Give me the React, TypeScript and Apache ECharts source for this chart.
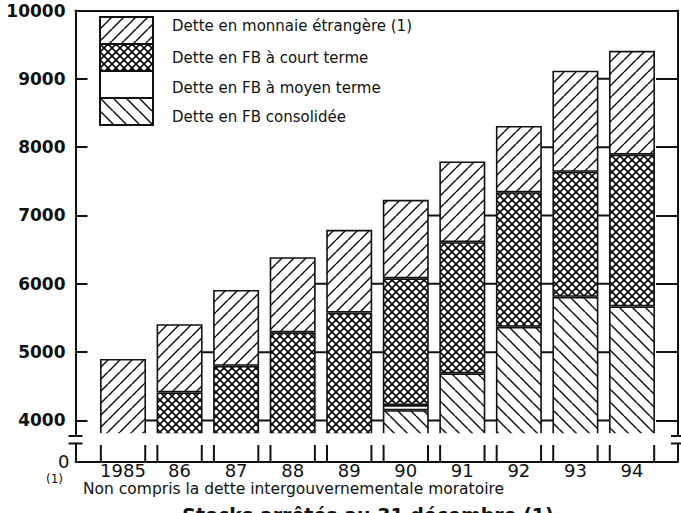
import React, { useEffect, useRef } from 'react';
import * as echarts from 'echarts';

// ---- data ----
const YEARS = ['1985', '86', '87', '88', '89', '90', '91', '92', '93', '94'];
const NAME_FOREIGN = 'Dette en monnaie étrangère (1)';
const NAME_SHORT = 'Dette en FB à court terme';
const NAME_MEDIUM = 'Dette en FB à moyen terme';
const NAME_CONSOL = 'Dette en FB consolidée';
const consolidee = [null, null, null, null, null, 4150, 4690, 5370, 5810, 5670];
const moyenTerme = [null, null, null, null, null, 75, null, null, null, null];
const courtTerme = [null, 4410, 4800, 5290, 5580, 1855, 1920, 1970, 1830, 2220];
const monnaieEtrangere = [4900, 1000, 1110, 1100, 1210, 1150, 1180, 970, 1480, 1520];
const Y_LABELS = [4000, 5000, 6000, 7000, 8000, 9000, 10000];
const GRID_LEVELS = [4000, 5000, 6000, 7000, 8000, 9000];
const Y_MIN = 3773;
const Y_MAX = 10000;
const FOOTNOTE = 'Non compris la dette intergouvernementale moratoire';
const BOTTOM_TITLE = 'Stocks arrêtés au 31 décembre (1)';

const FONT = 'DejaVu Sans';
const INK = '#111';
const BAR_W = 46;
const BAR_BORDER = 1.6;

function makePattern(size: number, lw: number, dirs: string[]) {
  const c = document.createElement('canvas');
  c.width = size;
  c.height = size;
  const ctx = c.getContext('2d') as CanvasRenderingContext2D;
  ctx.fillStyle = '#fff';
  ctx.fillRect(0, 0, size, size);
  ctx.strokeStyle = INK;
  ctx.lineWidth = lw;
  for (const d of dirs) {
    for (let k = -1; k <= 1; k++) {
      ctx.beginPath();
      if (d === '/') {
        ctx.moveTo(k * size, size);
        ctx.lineTo(k * size + size, 0);
      } else {
        ctx.moveTo(k * size, 0);
        ctx.lineTo(k * size + size, size);
      }
      ctx.stroke();
    }
  }
  return { image: c.toDataURL(), imageWidth: size, imageHeight: size, repeat: 'repeat' };
}

export default function App() {
  const ref = useRef<HTMLDivElement>(null);
  useEffect(() => {
    const chart = echarts.init(ref.current as HTMLDivElement, null, { renderer: 'svg' });

    const pForeign = makePattern(12, 1.5, ['/']);
    const pCross = makePattern(8, 1.8, ['/', '\\']);
    const pConsol = makePattern(13, 1.5, ['\\']);

    const tops = YEARS.map((_, i) =>
      [consolidee, moyenTerme, courtTerme, monnaieEtrangere].reduce((s, a) => s + (a[i] || 0), 0)
    );
    const segs: number[][] = [];
    for (let i = 0; i < YEARS.length - 1; i++) {
      for (const L of GRID_LEVELS) {
        if (L < Math.min(tops[i], tops[i + 1])) segs.push([i, L]);
      }
    }

    const barCommon = {
      type: 'bar',
      stack: 'total',
      xAxisIndex: 1,
      yAxisIndex: 2,
      barWidth: BAR_W,
      clip: true,
      silent: true,
      emphasis: { disabled: true },
    };
    const line = { color: INK, width: 2 };
    const legendNames = [NAME_FOREIGN, NAME_SHORT, NAME_MEDIUM, NAME_CONSOL];
    const richBase = { fontFamily: FONT, fontSize: 15, color: INK };

    const option: any = {
      animation: false,
      backgroundColor: '#fff',
      textStyle: { fontFamily: FONT, color: INK },
      grid: [
        { left: 75.5, right: 3, top: 10.5, bottom: 77 },
        { left: 94.75, right: 20.75, top: 10.5, bottom: 77 },
        { left: 75.5, right: 3, top: 443.5, bottom: 51.5 },
        { left: 94.75, right: 20.75, top: 443.5, bottom: 51.5 },
      ],
      legend: {
        orient: 'vertical',
        left: 99,
        top: 16,
        padding: 0,
        itemWidth: 53,
        itemHeight: 27,
        itemGap: -2,
        icon: 'rect',
        selectedMode: false,
        data: legendNames,
        formatter: (name: string) => `{r${legendNames.indexOf(name)}|${name}}`,
        textStyle: {
          fontFamily: FONT, fontSize: 15, color: INK, padding: [0, 0, 0, 14],
          rich: {
            r0: { ...richBase, padding: [0, 0, 9, 0] },
            r1: { ...richBase },
            r2: { ...richBase, padding: [7, 0, 0, 0] },
            r3: { ...richBase, padding: [11, 0, 0, 0] },
          },
        },
      },
      xAxis: [
        {
          gridIndex: 0, type: 'value', position: 'top', min: 0, max: 1,
          axisLine: { show: true, onZero: false, lineStyle: line },
          axisTick: { show: false }, axisLabel: { show: false }, splitLine: { show: false },
        },
        { gridIndex: 1, type: 'category', data: YEARS, show: false },
        {
          gridIndex: 2, type: 'value', position: 'bottom', min: 0, max: 1,
          axisLine: { show: true, onZero: false, lineStyle: line },
          axisTick: { show: false }, axisLabel: { show: false }, splitLine: { show: false },
        },
        {
          gridIndex: 3, type: 'category', data: YEARS, position: 'bottom',
          axisLine: { show: false, onZero: false }, axisTick: { show: false },
          axisLabel: { interval: 0, fontFamily: FONT, fontSize: 18, color: INK, margin: 0 },
        },
      ],
      yAxis: [
        {
          gridIndex: 0, type: 'value', position: 'left', min: Y_MIN, max: Y_MAX,
          axisLine: { show: true, onZero: false, lineStyle: line },
          axisTick: { show: true, inside: true, length: 12, customValues: GRID_LEVELS, lineStyle: line },
          axisLabel: {
            customValues: Y_LABELS, formatter: (v: number) => String(v),
            fontFamily: FONT, fontWeight: 'bold', fontSize: 17, color: INK, margin: 10,
            padding: [6, 0, 0, 0],
          },
          splitLine: { show: false },
        },
        {
          gridIndex: 0, type: 'value', position: 'right', min: Y_MIN, max: Y_MAX,
          axisLine: { show: true, onZero: false, lineStyle: line },
          axisTick: { show: true, inside: true, length: 22, customValues: GRID_LEVELS, lineStyle: line },
          axisLabel: { show: false }, splitLine: { show: false },
        },
        { gridIndex: 1, type: 'value', min: Y_MIN, max: Y_MAX, show: false, splitLine: { show: false } },
        {
          gridIndex: 2, type: 'value', position: 'left', min: 0, max: 1,
          axisLine: { show: true, onZero: false, lineStyle: line },
          axisTick: { show: false },
          axisLabel: { customValues: [0], formatter: (v: number) => String(v), fontFamily: FONT, fontSize: 18, color: INK, margin: 6 },
          splitLine: { show: false },
        },
        {
          gridIndex: 2, type: 'value', position: 'right', min: 0, max: 1,
          axisLine: { show: true, onZero: false, lineStyle: line },
          axisTick: { show: false }, axisLabel: { show: false }, splitLine: { show: false },
        },
        { gridIndex: 3, type: 'value', min: 0, max: 1, show: false, splitLine: { show: false } },
      ],
      series: [
        { ...barCommon, name: NAME_CONSOL, data: consolidee, itemStyle: { color: pConsol, borderColor: INK, borderWidth: BAR_BORDER } },
        { ...barCommon, name: NAME_MEDIUM, data: moyenTerme, itemStyle: { color: '#fff', borderColor: INK, borderWidth: BAR_BORDER } },
        { ...barCommon, name: NAME_SHORT, data: courtTerme, itemStyle: { color: pCross, borderColor: INK, borderWidth: BAR_BORDER } },
        { ...barCommon, name: NAME_FOREIGN, data: monnaieEtrangere, itemStyle: { color: pForeign, borderColor: INK, borderWidth: BAR_BORDER } },
        {
          type: 'custom',
          xAxisIndex: 1,
          yAxisIndex: 2,
          z: 1,
          silent: true,
          data: segs,
          encode: { x: 0, y: 1 },
          renderItem: (params: any, api: any) => {
            const i = api.value(0);
            const L = api.value(1);
            const p0 = api.coord([i, L]);
            const p1 = api.coord([i + 1, L]);
            return {
              type: 'line',
              shape: { x1: p0[0], y1: p0[1], x2: p1[0], y2: p1[1] },
              style: { stroke: INK, lineWidth: 2 },
            };
          },
        },
        {
          type: 'custom',
          xAxisIndex: 3,
          yAxisIndex: 5,
          silent: true,
          data: YEARS.map((_, i) => [i, 0]),
          encode: { x: 0, y: 1 },
          renderItem: (params: any, api: any) => {
            const i = api.value(0);
            const b = api.coord([i, 0]);
            const t = api.coord([i, 1]);
            const h = BAR_W / 2 - BAR_BORDER / 2;
            return {
              type: 'group',
              children: [
                { type: 'line', shape: { x1: b[0] - h, y1: t[1] + 1.5, x2: b[0] - h, y2: b[1] }, style: { stroke: INK, lineWidth: 2 } },
                { type: 'line', shape: { x1: b[0] + h, y1: t[1] + 1.5, x2: b[0] + h, y2: b[1] }, style: { stroke: INK, lineWidth: 2 } },
              ],
            };
          },
        },
      ],
      graphic: [
        { type: 'rect', z: 100, shape: { x: 90, y: 433.3, width: 575, height: 8 }, style: { fill: '#fff' } },
        { type: 'line', z: 100, shape: { x1: 68.5, y1: 436, x2: 82.5, y2: 436 }, style: { stroke: INK, lineWidth: 2 } },
        { type: 'line', z: 100, shape: { x1: 68.5, y1: 443.5, x2: 82.5, y2: 443.5 }, style: { stroke: INK, lineWidth: 2 } },
        { type: 'line', z: 100, shape: { x1: 671, y1: 436, x2: 685, y2: 436 }, style: { stroke: INK, lineWidth: 2 } },
        { type: 'line', z: 100, shape: { x1: 671, y1: 443.5, x2: 685, y2: 443.5 }, style: { stroke: INK, lineWidth: 2 } },
        {
          type: 'text', x: 46, y: 479,
          style: { text: '(1)', fontFamily: FONT, fontSize: 12, fill: INK, align: 'left', verticalAlign: 'middle', textAlign: 'left', textVerticalAlign: 'middle' },
        },
        {
          type: 'text', x: 83, y: 489,
          style: { text: FOOTNOTE, fontFamily: FONT, fontSize: 15.5, fill: INK, align: 'left', verticalAlign: 'middle', textAlign: 'left', textVerticalAlign: 'middle' },
        },
        {
          type: 'text', x: 368, y: 505,
          style: { text: BOTTOM_TITLE, fontFamily: FONT, fontSize: 19, fontWeight: 'bold', fill: INK, align: 'center', verticalAlign: 'top', textAlign: 'center', textVerticalAlign: 'top' },
        },
      ],
    };

    chart.setOption(option);
    return () => chart.dispose();
  }, []);

  return (
    <div
      ref={ref}
      style={{ position: 'absolute', left: 0, top: 0, width: 681, height: 513, background: '#fff' }}
    />
  );
}
